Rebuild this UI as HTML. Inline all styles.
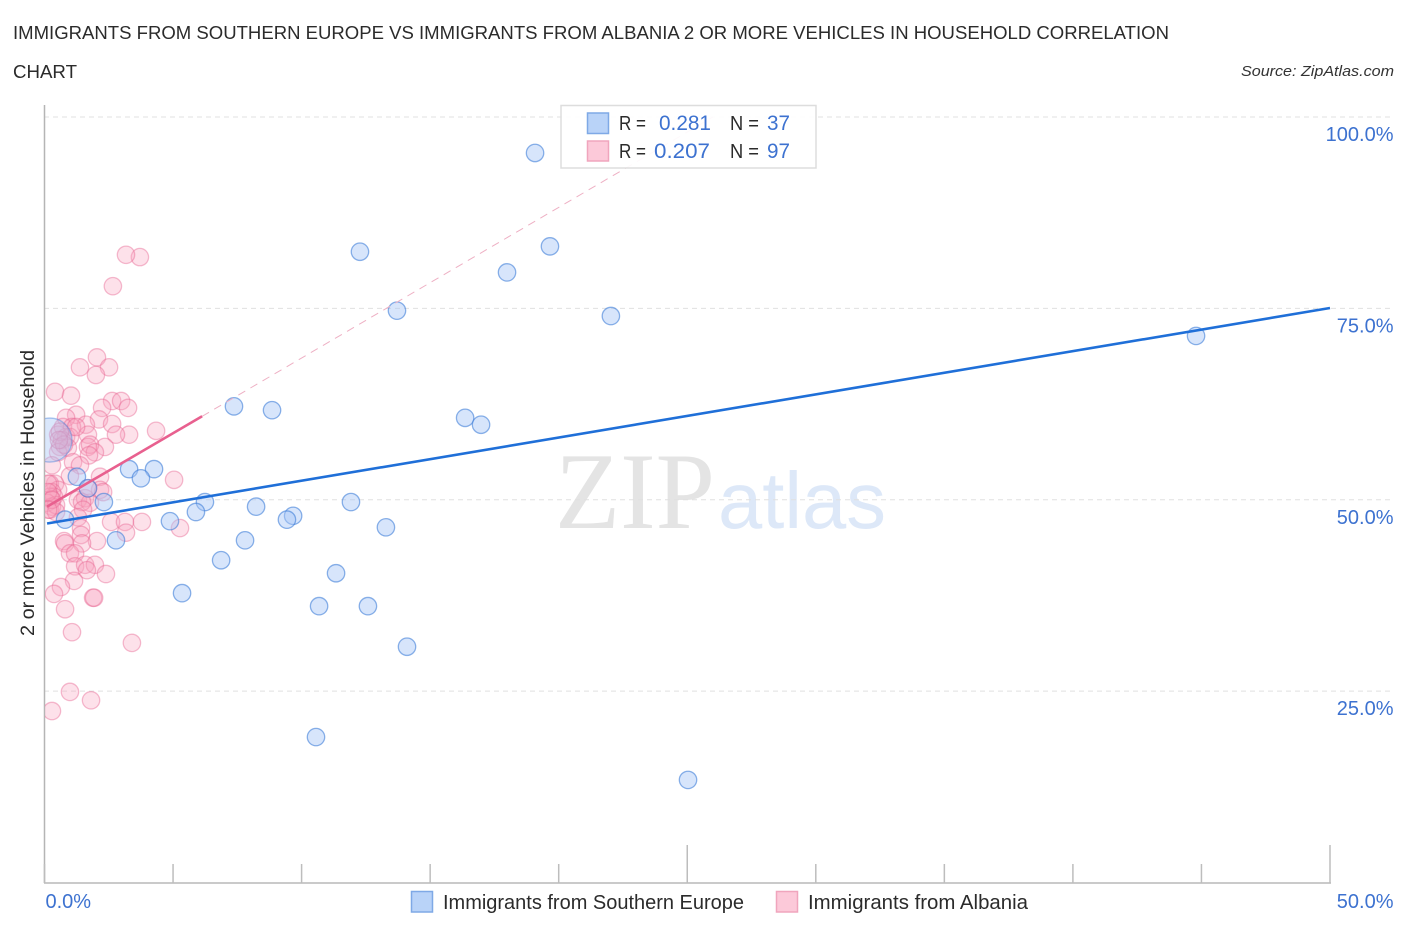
<!DOCTYPE html>
<html lang="en">
<head>
<meta charset="utf-8">
<title>Immigrants from Southern Europe vs Immigrants from Albania chart</title>
<style>
html,body{margin:0;padding:0;background:#fff;width:1406px;height:930px;overflow:hidden}
svg{display:block;font-family:"Liberation Sans",sans-serif}
</style>
</head>
<body>
<svg id="chart" xmlns="http://www.w3.org/2000/svg" width="1406" height="930" viewBox="0 0 1406 930">
  <defs>
    <clipPath id="plot-clip"><rect x="45" y="100" width="1300" height="782"/></clipPath>
  </defs>
  <rect x="0" y="0" width="1406" height="930" fill="#ffffff"/>
  <text x="13" y="39" font-size="18.5" fill="#2b2b2b" textLength="1156" lengthAdjust="spacingAndGlyphs">IMMIGRANTS FROM SOUTHERN EUROPE VS IMMIGRANTS FROM ALBANIA 2 OR MORE VEHICLES IN HOUSEHOLD CORRELATION</text>
  <text x="13" y="78" font-size="18.5" fill="#2b2b2b" textLength="64" lengthAdjust="spacingAndGlyphs">CHART</text>
  <text x="1394" y="76" font-size="15" font-style="italic" fill="#333" text-anchor="end" textLength="153" lengthAdjust="spacingAndGlyphs">Source: ZipAtlas.com</text>
  <text x="555" y="528" font-size="109" font-family="'Liberation Serif',serif" fill="#e4e4e4" textLength="160" lengthAdjust="spacingAndGlyphs">ZIP</text>
  <text x="718" y="528" font-size="80" fill="#dde8f8" textLength="168" lengthAdjust="spacingAndGlyphs">atlas</text>
  <g id="grid"></g>
  <g id="axes"></g>
  <g id="marks" clip-path="url(#plot-clip)"></g>
  <g id="lines"></g>
  <text transform="translate(34,636) rotate(-90)" font-size="19.5" fill="#2b2b2b" textLength="286" lengthAdjust="spacingAndGlyphs">2 or more Vehicles in Household</text>
  <g>
    <rect x="561" y="105.500" width="255" height="62.500" fill="#ffffff" fill-opacity="0.92" stroke="#dddddd" stroke-width="1.500"/>
    <rect x="587.500" y="113" width="21" height="20.500" fill="#b9d3f8" stroke="#7fa9e6" stroke-width="1.500"/>
    <rect x="587.500" y="141" width="21" height="20" fill="#fcc9d9" stroke="#f0a5bd" stroke-width="1.500"/>
    <text x="619" y="130" font-size="20" fill="#2b2b2b" textLength="27" lengthAdjust="spacingAndGlyphs">R =</text>
    <text x="659" y="130" font-size="21" fill="#3d72d0" textLength="52" lengthAdjust="spacingAndGlyphs">0.281</text>
    <text x="730" y="130" font-size="20" fill="#2b2b2b" textLength="29" lengthAdjust="spacingAndGlyphs">N =</text>
    <text x="767" y="130" font-size="21" fill="#3d72d0" textLength="23" lengthAdjust="spacingAndGlyphs">37</text>
    <text x="619" y="158" font-size="20" fill="#2b2b2b" textLength="27" lengthAdjust="spacingAndGlyphs">R =</text>
    <text x="654" y="158" font-size="21" fill="#3d72d0" textLength="56" lengthAdjust="spacingAndGlyphs">0.207</text>
    <text x="730" y="158" font-size="20" fill="#2b2b2b" textLength="29" lengthAdjust="spacingAndGlyphs">N =</text>
    <text x="767" y="158" font-size="21" fill="#3d72d0" textLength="23" lengthAdjust="spacingAndGlyphs">97</text>
  </g>
  <g>
    <rect x="411.500" y="891.500" width="21" height="20.500" fill="#b9d3f8" stroke="#7fa9e6" stroke-width="1.500"/>
    <text x="443" y="909" font-size="20" fill="#2b2b2b" textLength="301" lengthAdjust="spacingAndGlyphs">Immigrants from Southern Europe</text>
    <rect x="776.500" y="891.500" width="21" height="20.500" fill="#fcc9d9" stroke="#f0a5bd" stroke-width="1.500"/>
    <text x="808" y="909" font-size="20" fill="#2b2b2b" textLength="220" lengthAdjust="spacingAndGlyphs">Immigrants from Albania</text>
  </g>
</svg>
<script>
var blueX = [19.08,19.66,12.27,17.99,13.71,22.03,44.79,7.37,8.85,16.36,16.98,3.29,4.26,3.75,1.26,1.69,2.31,6.24,5.89,11.92,8.23,9.67,9.43,4.88,0.80,13.28,2.78,7.80,6.87,11.34,5.35,10.68,12.58,14.10,10.56,25.03];
var blueY = [95.3,83.1,82.4,79.7,74.7,74.0,71.4,62.2,61.7,60.7,59.8,54.0,54.0,52.8,53.0,51.5,49.7,49.7,48.4,49.7,49.1,47.9,47.4,47.2,47.4,46.4,44.7,44.7,42.1,40.4,37.8,36.1,36.1,30.8,19.0,13.4];
var blueClusterX = [0.21];
var blueClusterY = [57.8];
var pinkX = [3.71,3.17,2.66,2.04,1.38,2.51,2.00,0.41,1.03,2.63,2.98,3.25,2.24,1.23,0.84,2.12,2.63,1.61,0.72,1.07,4.34,3.29,2.78,1.69,0.53,0.84,0.99,0.68,0.60,1.69,2.35,0.91,1.77,0.53,1.96,1.73,0.29,1.11,1.38,5.04,2.16,0.99,0.41,0.21,0.53,0.29,0.37,0.21,0.10,0.29,0.21,0.45,0.45,0.14,0.14,1.30,1.58,1.77,1.46,2.16,2.28,1.69,1.50,1.30,2.59,3.13,3.79,3.17,5.27,2.04,1.42,1.42,0.76,0.80,1.46,0.99,1.19,1.19,1.58,1.96,1.65,2.39,1.15,0.64,0.37,1.89,1.93,0.80,1.07,3.40,0.99,1.81,0.29,0.60,0.76,0.56,1.23,0.29,0.14];
var pinkY = [81.7,82.0,77.9,68.6,67.3,67.3,66.3,64.1,63.6,62.9,62.9,62.0,62.0,61.1,60.7,60.5,59.9,59.8,59.5,59.5,59.0,58.5,58.5,58.5,58.5,58.2,58.2,57.8,56.9,56.9,56.9,56.8,57.2,56.2,56.2,55.8,54.5,54.9,54.5,52.6,53.0,53.1,52.1,52.1,51.3,51.0,50.4,50.4,49.6,49.1,48.7,49.3,48.4,52.1,51.0,50.0,50.2,49.6,49.7,51.3,51.0,51.5,48.7,47.7,47.1,47.1,47.1,45.7,46.3,44.6,46.3,45.4,44.6,44.3,44.3,43.0,43.0,41.3,41.5,41.5,40.8,40.3,39.4,38.6,37.7,37.2,37.2,35.7,32.7,31.3,24.9,23.8,22.4,58.9,57.2,57.8,59.5,50.0,48.7];
var blueLineX = [0.1,50];
var blueLineY = [46.9,75.05];
var pinkLineX = [0.1,6.13];
var pinkLineY = [49.1,60.9];
var pinkDashX = [6.13,26.0];
var pinkDashY = [60.9,100];
var yTickValues = [25,50,75,100];
var yTickLabels = ["25.0%","50.0%","75.0%","100.0%"];
var xTickValues = [0,5,10,15,20,25,30,35,40,45,50];
var xEndValues = [0,50];
var xEndLabels = ["0.0%","50.0%"];

var NS = 'http://www.w3.org/2000/svg';
function xScale(v){ return 44.5 + v * 25.71; }
function yScale(v){ return 882.5 - v * 7.655; }
function make(tag, parent, attrs){
  var el = document.createElementNS(NS, tag);
  for (var k in attrs) { el.setAttribute(k, attrs[k]); }
  parent.appendChild(el);
  return el;
}
var grid = document.getElementById('grid');
var axes = document.getElementById('axes');
var marks = document.getElementById('marks');
var lines = document.getElementById('lines');

yTickValues.forEach(function(v, i){
  var g = make('line', grid, {x1:44, x2:1394, y1:yScale(v), y2:yScale(v), stroke:'#e0e0e0', 'stroke-width':1, 'stroke-dasharray':'5 4'});
  
  
  var t = make('text', axes, {x:1393.5, y:yScale(v) + 24, 'font-size':20, fill:'#3d72d0', 'text-anchor':'end'});
  t.textContent = yTickLabels[i];
  
  
});

var yAxis = make('line', axes, {x1:44.5, x2:44.5, y1:105, y2:883, stroke:'#b5b5b5', 'stroke-width':1.5});


var xAxis = make('line', axes, {x1:44, x2:1331, y1:883, y2:883, stroke:'#b9b9b9', 'stroke-width':1.5});



xTickValues.forEach(function(v){
  var major = v === 25 || v === 50;
  var tick = make('line', axes, {x1:xScale(v), x2:xScale(v), y1:major ? 845 : 864, y2:883, stroke:'#bdbdbd', 'stroke-width':1.5});
  
  
});

xEndValues.forEach(function(v, i){
  var t = make('text', axes, {x:i === 0 ? xScale(v) + 1 : 1393.5, y:908, 'font-size':20, fill:'#3d72d0', 'text-anchor':i === 0 ? 'start' : 'end'});
  t.textContent = xEndLabels[i];
  
  
});

pinkX.forEach(function(v, i){
  var c = make('circle', marks, {cx:xScale(v), cy:yScale(pinkY[i]), r:8.7, fill:'#f8a3bd', 'fill-opacity':0.32, stroke:'#e8628f', 'stroke-opacity':0.42, 'stroke-width':1.3});
  
  
});

blueClusterX.forEach(function(v, i){
  var c = make('circle', marks, {cx:xScale(v), cy:yScale(blueClusterY[i]), r:22, fill:'#a6c6f6', 'fill-opacity':0.42, stroke:'#4b86dc', 'stroke-opacity':0.45, 'stroke-width':1.3});
  
  
});

blueX.forEach(function(v, i){
  var c = make('circle', marks, {cx:xScale(v), cy:yScale(blueY[i]), r:8.7, fill:'#a6c6f6', 'fill-opacity':0.45, stroke:'#3f7ed8', 'stroke-opacity':0.6, 'stroke-width':1.3});
  
  
});

var dash = make('line', lines, {x1:xScale(pinkDashX[0]), y1:yScale(pinkDashY[0]), x2:xScale(pinkDashX[1]), y2:yScale(pinkDashY[1]), stroke:'#eeb0c4', 'stroke-width':1, 'stroke-dasharray':'8 6'});


var pinkLine = make('line', lines, {x1:xScale(pinkLineX[0]), y1:yScale(pinkLineY[0]), x2:xScale(pinkLineX[1]), y2:yScale(pinkLineY[1]), stroke:'#e8608f', 'stroke-width':2.6});


var blueLine = make('line', lines, {x1:xScale(blueLineX[0]), y1:yScale(blueLineY[0]), x2:xScale(blueLineX[1]), y2:yScale(blueLineY[1]), stroke:'#1f6fd8', 'stroke-width':2.6});


</script>
</body>
</html>
